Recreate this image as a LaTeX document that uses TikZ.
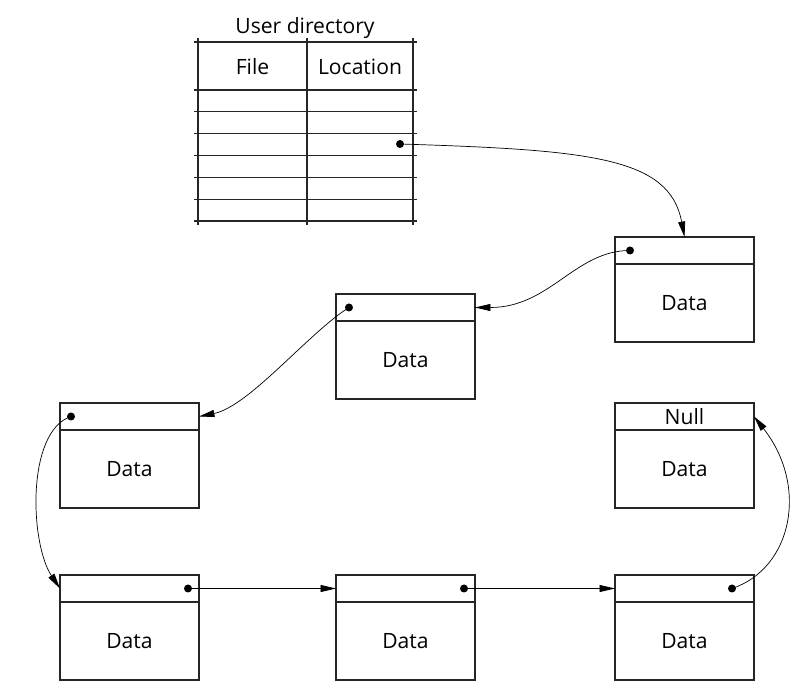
\documentclass[tikz,border=0pt]{standalone}
\usepackage{fontspec}
\setmainfont{Open Sans}
\usetikzlibrary{arrows.meta,positioning,calc}

\begin{document}
\begin{tikzpicture}[x=0.025cm,y=0.025cm,
  every node/.style={font=\fontsize{15}{18}\selectfont},
  rule/.style={draw=black!85,line width=0.9pt},
  ptrbox/.style={rule,minimum width=3.475cm,minimum height=0.675cm,inner sep=0pt,outer sep=0pt},
  databox/.style={rule,minimum width=3.475cm,minimum height=1.95cm,inner sep=0pt,outer sep=0pt},
  link/.style={-{Triangle[length=11pt,width=5pt]},line width=0.5pt}]
  \useasboundingbox (0,0) rectangle (790,684);
  % user directory
  \node (title) at (305,656) {User directory};
  \foreach \y in {642,594,572.2,550.3,528.5,506.7,484.8,463}
    \draw[rule] (194,\y) -- (417,\y);
  \foreach \x in {198,307,413}
    \draw[rule] (\x,646) -- (\x,459);
  \node (hfile) at (252.5,617) {File};
  \node (hloc) at (360,617) {Location};
  \coordinate (d0) at (400,540);
  % list cells
  \foreach \n/\x/\y/\t in {1/684.5/433.5/{},2/405.5/376.5/{},3/129.5/267.5/{},
      4/129.5/95.5/{},5/405.5/95.5/{},6/684.5/95.5/{},7/684.5/267.5/Null}{
    \node[ptrbox] (p\n) at (\x,\y) {\t};
    \node[databox,below=0pt of p\n] (c\n) {Data};}
  \coordinate (d1) at ($(p1.west)+(15,0)$);
  \coordinate (d2) at ($(p2.west)+(13,0)$);
  \coordinate (d3) at ($(p3.west)+(11,0)$);
  \coordinate (d4) at ($(p4.east)+(-11,0)$);
  \coordinate (d5) at ($(p5.east)+(-11,0)$);
  \coordinate (d6) at ($(p6.east)+(-22,0)$);
  \foreach \i in {0,...,6}
    \fill (d\i) circle[radius=0.1cm];
  % pointers
  \draw[link] (d0) .. controls +(190,-6) and +(-15,80) .. (p1.north);
  \draw[link] (d1) .. controls +(-55,0) and +(75,0) .. (p2.east);
  \draw[link] (d2) .. controls +(-40,-25) and +(50,10) .. (p3.east);
  \draw[link] (d3) .. controls +(-45,-15) and +(-30,45) .. (p4.west);
  \draw[link] (d4) -- (p5.west);
  \draw[link] (d5) -- (p6.west);
  \draw[link] (d6) .. controls +(60,20) and +(55,-70) .. (p7.east);
\end{tikzpicture}
\end{document}
